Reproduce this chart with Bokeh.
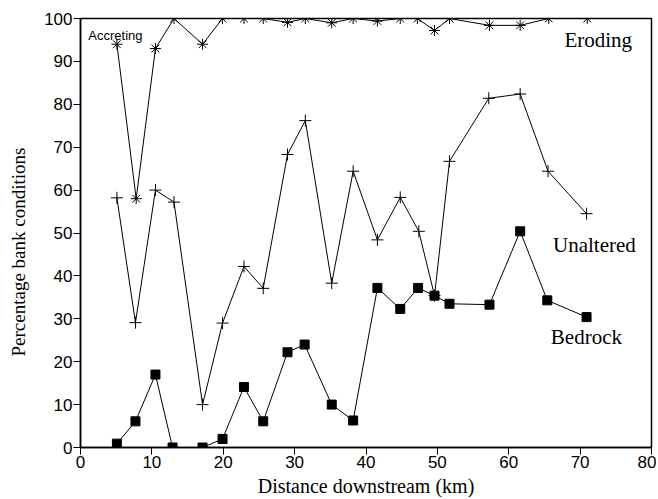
from bokeh.plotting import figure
from bokeh.models import Range1d, FixedTicker, Label
from bokeh.embed import file_html
from bokeh.resources import INLINE

# Data
acc_x = [5.1, 7.8, 10.5, 13.1, 17.1, 19.9, 22.9, 25.6, 29.0, 31.5, 35.2, 38.2,
         41.6, 44.8, 47.2, 49.6, 51.7, 57.3, 61.6, 65.6, 71.0]
acc_y = [94, 58, 93, 100, 94, 100, 100, 100, 99.1, 100, 99, 100,
         99.4, 100, 100, 97.2, 100, 98.4, 98.4, 100, 100]

unalt_x = [5.1, 7.7, 10.5, 13.1, 17.1, 19.9, 22.9, 25.6, 29.0, 31.5, 35.2, 38.2,
           41.6, 44.8, 47.4, 49.6, 51.7, 57.2, 61.6, 65.5, 70.9]
unalt_y = [58.2, 29.1, 60, 57.2, 10, 29, 42.2, 37.1, 68.3, 76.2, 38.3, 64.4,
           48.4, 58.3, 50.4, 35.4, 66.7, 81.4, 82.4, 64.4, 54.5]

bed_x = [5.1, 7.7, 10.5, 12.9, 17.1, 19.9, 22.9, 25.6, 29.0, 31.4, 35.2, 38.2,
         41.6, 44.8, 47.3, 49.6, 51.7, 57.3, 61.6, 65.4, 70.9]
bed_y = [0.9, 6.1, 17, 0, 0, 2, 14.1, 6.1, 22.2, 24, 10, 6.3,
         37.2, 32.3, 37.2, 35.4, 33.5, 33.3, 50.4, 34.3, 30.4]

x_ticks = [0, 10, 20, 30, 40, 50, 60, 70, 80]
y_ticks = [0, 10, 20, 30, 40, 50, 60, 70, 80, 90, 100]

p = figure(width=656, height=499, output_backend="svg", toolbar_location=None,
           x_range=Range1d(0, 80), y_range=Range1d(0, 100),
           min_border_left=80, min_border_right=5, min_border_top=18,
           min_border_bottom=52)
p.background_fill_color = "white"
p.border_fill_color = "white"
p.outline_line_color = "black"
p.outline_line_width = 1.5
p.grid.visible = False

serif = "Liberation Serif"
sans = "Liberation Sans"

for ax in (p.xaxis, p.yaxis):
    ax.axis_line_color = "black"
    ax.axis_line_width = 1.5
    ax.major_tick_line_color = "black"
    ax.major_tick_out = 7
    ax.major_tick_in = 0
    ax.minor_tick_line_color = None
    ax.major_label_text_font = sans
    ax.major_label_text_font_size = "17px"
    ax.major_label_text_color = "black"
    ax.axis_label_text_font = serif
    ax.axis_label_text_font_size = "19px"
    ax.axis_label_text_font_style = "normal"
    ax.axis_label_text_color = "black"

p.xaxis.ticker = FixedTicker(ticks=x_ticks)
p.yaxis.ticker = FixedTicker(ticks=y_ticks)
p.xaxis.axis_label = "Distance downstream (km)"
p.xaxis.axis_label_text_font_size = "20px"
# trailing non-breaking spaces shift the visible title below the frame centre
p.yaxis.axis_label = "Percentage bank conditions" + "\u00a0" * 8
p.xaxis.major_label_standoff = 1
p.yaxis.major_label_standoff = 1
p.xaxis.axis_label_standoff = 4
p.yaxis.axis_label_standoff = 12

# Accreting / eroding boundary
p.line(acc_x, acc_y, line_color="black", line_width=1)
p.scatter(acc_x, acc_y, marker="asterisk", size=11, line_color="black", line_width=1)

# Unaltered
p.line(unalt_x, unalt_y, line_color="black", line_width=1)
p.scatter(unalt_x, unalt_y, marker="cross", size=12, line_color="black", line_width=1)

# Bedrock
p.line(bed_x, bed_y, line_color="black", line_width=1)
p.scatter(bed_x, bed_y, marker="square", size=9, line_color="black", fill_color="black")

p.add_layout(Label(x=1.1, y=96, text="Accreting", text_font=sans, text_font_size="13px",
                   text_baseline="middle", text_color="black"))
p.add_layout(Label(x=67.8, y=95.1, text="Eroding", text_font=serif, text_font_size="21px",
                   text_baseline="middle", text_color="black"))
p.add_layout(Label(x=66.2, y=47.1, text="Unaltered", text_font=serif, text_font_size="21px",
                   text_baseline="middle", text_color="black"))
p.add_layout(Label(x=65.9, y=25.7, text="Bedrock", text_font=serif, text_font_size="21px",
                   text_baseline="middle", text_color="black"))

open("out.html", "w").write(file_html(p, INLINE))
